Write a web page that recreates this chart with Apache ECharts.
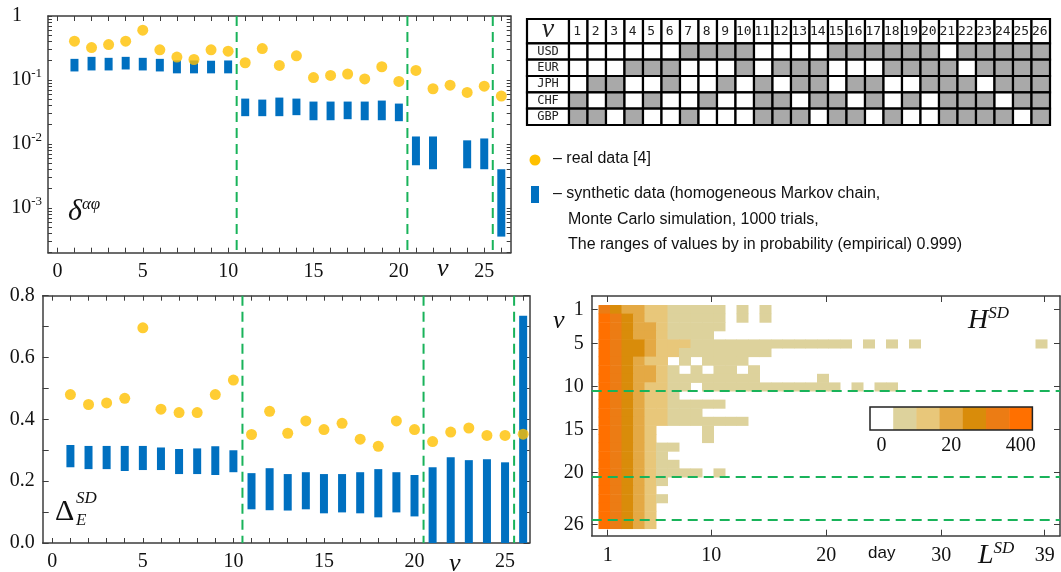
<!DOCTYPE html>
<html><head><meta charset="utf-8">
<script src="https://cdn.jsdelivr.net/npm/echarts@6/dist/echarts.min.js"></script>
<style>html,body{margin:0;padding:0;background:#fff}#c{width:1061px;height:572px}</style>
</head><body><div id="c"></div>
<script>
// ---------------- data ----------------
const nu = [1,2,3,4,5,6,7,8,9,10,11,12,13,14,15,16,17,18,19,20,21,22,23,24,25,26];
// top-left: delta^{alpha phi} (log scale)
const deltaReal = [0.404,0.321,0.358,0.404,0.60,0.296,0.228,0.209,0.296,0.282,0.186,0.31,0.169,0.239,0.109,0.118,0.124,0.104,0.161,0.095,0.141,0.073,0.083,0.064,0.080,0.056];
const deltaHigh = [0.214,0.230,0.222,0.230,0.222,0.214,0.202,0.202,0.200,0.202,0.0512,0.0494,0.0531,0.0512,0.046,0.046,0.046,0.046,0.0477,0.0428,0.0131,0.0131,null,0.0114,0.0122,0.00403];
const deltaLow  = [0.136,0.141,0.141,0.146,0.141,0.136,0.127,0.127,0.127,0.127,0.0272,0.0272,0.0272,0.0282,0.0235,0.0235,0.0244,0.0235,0.0235,0.0227,0.00465,0.00403,null,0.00417,0.00403,0.000357];
// bottom-left: Delta_E^SD
const dispReal = [0.480,0.448,0.453,0.468,0.696,0.433,0.422,0.422,0.480,0.527,0.351,0.426,0.355,0.395,0.367,0.387,0.336,0.313,0.395,0.367,0.328,0.359,0.372,0.348,0.348,0.352];
const dispHigh = [0.317,0.314,0.314,0.314,0.314,0.309,0.304,0.306,0.313,0.300,0.226,0.242,0.223,0.229,0.223,0.223,0.229,0.239,0.229,0.220,0.245,0.277,0.268,0.271,0.261,0.735];
const dispLow  = [0.245,0.239,0.239,0.233,0.236,0.236,0.223,0.223,0.220,0.229,0.109,0.106,0.105,0.109,0.096,0.099,0.096,0.083,0.099,0.086,0,0,0,0,0,0];
// group boundaries
const groupBounds = [10.5, 20.5, 25.5];
const heatBounds = [10.5, 20.5, 25.5];
// table
const currencies = ['USD','EUR','JPH','CHF','GBP'];
const tableUSD = [0,0,0,0,0,0,1,1,1,1,0,0,0,0,1,1,1,1,1,1,0,1,1,1,1,1];
const tableEUR = [0,0,0,1,1,1,0,0,0,1,0,1,1,1,0,0,0,1,1,1,1,0,1,1,1,1];
const tableJPH = [0,1,1,0,0,1,0,0,1,0,1,0,1,1,0,1,1,0,0,1,1,1,0,1,1,1];
const tableCHF = [1,0,1,0,1,0,0,1,0,0,1,1,0,1,1,0,1,0,1,0,1,1,1,0,1,1];
const tableGBP = [1,1,0,1,0,0,1,0,0,0,1,1,1,0,1,1,0,1,0,0,1,1,1,1,0,1];
// heatmap H^SD: colour level (0..6) per day L = 1..39, one string per nu
const heatRows = [
  "5433221111101010",
  "6543221111101010",
  "654332111110",
  "654332111100",
  "654432221111111111111101010100000000001",
  "654432211111111",
  "6543220101111",
  "654332101011010",
  "65433211111111000001",
  "65432211011111111111101011",
  "6543221",
  "65432211111",
  "654322111",
  "6543221111111",
  "65432000010",
  "6543200001",
  "6543211",
  "654321",
  "6543211",
  "65432111101",
  "654321",
  "65432",
  "654321",
  "65432",
  "65432",
  "65432"
];
const levelCounts = [0, 3, 8, 15, 40, 120, 400];
const heatXTicks = [1,10,20,30,39];
const heatYTicks = [1,5,10,15,20,26];
const heatLegendLabels = ['0','','','20','','','400'];

// ---------------- styles ----------------
const serif = '"Liberation Serif","DejaVu Serif",serif';
const sans = '"Liberation Sans",Arial,sans-serif';
const mono = '"DejaVu Sans Mono","Liberation Mono",monospace';
const AX = '#3c3c3c';
const BLUE = '#0070c0', GOLD = '#ffc000', GREEN = '#19b35a';
const levelColors = ['#ffffff','#ddd29c','#e8c77a','#e4a944','#d98c0a','#ec7c14','#ff7000'];

const lbl = {fontFamily: serif, fontSize: 20, color: '#111'};
function frameX(grid, pos, min, max, ticks, labels, margin){
  return {type:'value', gridIndex:grid, position:pos, min:min, max:max,
    axisLine:{show:true,onZero:false,lineStyle:{color:AX,width:1.5}},
    axisTick:{show:true,inside:true,length:5,customValues:ticks,lineStyle:{color:AX}},
    axisLabel: labels ? Object.assign({show:true,customValues:labels,margin:margin||9,formatter:v=>String(v)}, lbl) : {show:false},
    splitLine:{show:false}};
}

// y ticks for log axis
const logTicks = [];
for (let d=-4; d<=0; d++) for (let m=1; m<=9; m++){ const v=m*Math.pow(10,d); if (v>=0.0002 && v<=1.0000001) logTicks.push(+v.toPrecision(3)); }
const intTicks = [0,1,2,3,4,5,6,7,8,9,10,11,12,13,14,15,16,17,18,19,20,21,22,23,24,25,26];

const xAxes = [
  frameX(0,'bottom',-0.55,26.55,intTicks,[0,5,10,15,20,25]),
  frameX(0,'top',-0.55,26.55,intTicks,null),
  frameX(1,'bottom',-0.53,26.35,intTicks,[0,5,10,15,20,25]),
  frameX(1,'top',-0.53,26.35,intTicks,null),
  {type:'value', gridIndex:2, min:-2.27, max:26, show:false},
  frameX(3,'bottom',-0.39,40.33,heatXTicks,heatXTicks,10),
  frameX(3,'top',-0.39,40.33,heatXTicks,null)
];
xAxes[5].axisTick.length = 6; xAxes[6].axisTick.length = 6;

const yAxes = [
  {type:'log', logBase:10, gridIndex:0, position:'left', min:0.0002, max:1,
    axisLine:{show:true,onZero:false,lineStyle:{color:AX,width:1.5}},
    axisTick:{show:true,inside:true,length:4,customValues:logTicks,lineStyle:{color:AX}},
    axisLabel:{show:true, customValues:[0.001,0.01,0.1,1], margin:6,
      formatter:function(v){ const e=Math.round(Math.log10(v)); return e===0?'{one|1}':'{b|10}{s|'+e+'}'; },
      rich:{one:{fontFamily:serif,fontSize:20,color:'#111',padding:[0,20,0,0]},
            b:{fontFamily:serif,fontSize:20,color:'#111'},
            s:{fontFamily:serif,fontSize:13,color:'#111',padding:[0,0,12,0]}}},
    splitLine:{show:false}},
  {type:'log', logBase:10, gridIndex:0, position:'right', min:0.0002, max:1,
    axisLine:{show:true,onZero:false,lineStyle:{color:AX,width:1.5}},
    axisTick:{show:true,inside:true,length:4,customValues:logTicks,lineStyle:{color:AX}},
    axisLabel:{show:false}, splitLine:{show:false}},
  {type:'value', gridIndex:1, position:'left', min:0, max:0.8, interval:0.2,
    axisLine:{show:true,onZero:false,lineStyle:{color:AX,width:1.5}},
    axisTick:{show:true,inside:true,length:6,lineStyle:{color:AX}},
    minorTick:{show:true,splitNumber:2,length:6,lineStyle:{color:AX}},
    axisLabel:Object.assign({margin:8,formatter:v=>v.toFixed(1)},lbl), splitLine:{show:false}},
  {type:'value', gridIndex:1, position:'right', min:0, max:0.8, interval:0.2,
    axisLine:{show:true,onZero:false,lineStyle:{color:AX,width:1.5}},
    axisTick:{show:true,inside:true,length:6,lineStyle:{color:AX}},
    minorTick:{show:true,splitNumber:2,length:6,lineStyle:{color:AX}},
    axisLabel:{show:false}, splitLine:{show:false}},
  {type:'value', gridIndex:2, min:-1.49, max:5, inverse:true, show:false},
  {type:'value', gridIndex:3, position:'left', min:-0.55, max:27.33, inverse:true,
    axisLine:{show:true,onZero:false,lineStyle:{color:AX,width:1.5}},
    axisTick:{show:true,inside:true,length:6,customValues:heatYTicks,lineStyle:{color:AX}},
    axisLabel:Object.assign({customValues:heatYTicks,margin:8,formatter:v=>String(v)},lbl), splitLine:{show:false}},
  {type:'value', gridIndex:3, position:'right', min:-0.55, max:27.33, inverse:true,
    axisLine:{show:true,onZero:false,lineStyle:{color:AX,width:1.5}},
    axisTick:{show:true,inside:true,length:6,customValues:heatYTicks,lineStyle:{color:AX}},
    axisLabel:{show:false}, splitLine:{show:false}}
];

// ---------- series helpers ----------
function rangeBarItem(params, api){
  const x = api.value(0), lo = api.value(1), hi = api.value(2);
  const pt = api.coord([x, hi]), pb = api.coord([x, lo]);
  const w = 8;
  return {type:'rect', shape:{x:pt[0]-w/2, y:pt[1], width:w, height:pb[1]-pt[1]}, style:{fill:BLUE}};
}
function vLineItem(params, api){
  const cs = params.coordSys;
  const x = api.coord([api.value(0), api.value(1)])[0];
  return {type:'line', shape:{x1:x,y1:cs.y,x2:x,y2:cs.y+cs.height}, style:{stroke:GREEN,lineWidth:2,lineDash:[10,6]}};
}
function hLineItem(params, api){
  const cs = params.coordSys;
  const y = api.coord([api.value(1), api.value(0)])[1];
  return {type:'line', shape:{x1:cs.x,y1:y,x2:cs.x+cs.width,y2:y}, style:{stroke:GREEN,lineWidth:2,lineDash:[10,6]}};
}

const deltaBars = [], dispBars = [];
nu.forEach((n,i)=>{
  if (deltaHigh[i]!=null) deltaBars.push([n, deltaLow[i], deltaHigh[i]]);
  dispBars.push([n, dispLow[i], dispHigh[i]]);
});

// table items
const tableRows = [tableUSD, tableEUR, tableJPH, tableCHF, tableGBP];
const TX0 = -2.27, TY0 = -1.49;
const tableItems = [];
tableItems.push({value:[-1,-1,0], t:'\u03bd', kind:'corner'});
nu.forEach((n,c)=> tableItems.push({value:[c,-1,0], t:String(n), kind:'head'}));
currencies.forEach((cur,r)=>{
  tableItems.push({value:[-1,r,0], t:cur, kind:'row'});
  tableRows[r].forEach((v,c)=> tableItems.push({value:[c,r,v], t:'', kind:'cell'}));
});
function tableItem(params, api){
  const it = tableItems[params.dataIndex];
  const c = api.value(0), r = api.value(1), v = api.value(2);
  const xa = c<0?TX0:c, xb = c<0?0:c+1, ya = r<0?TY0:r, yb = r<0?0:r+1;
  const p0 = api.coord([xa, ya]), p1 = api.coord([xb, yb]);
  const rect = {type:'rect', shape:{x:p0[0],y:p0[1],width:p1[0]-p0[0],height:p1[1]-p0[1]},
    style:{fill: v ? '#a9a9a9' : '#ffffff', stroke:'#000', lineWidth:2.2}};
  const children = [rect];
  if (it.t){
    let font;
    if (it.kind==='corner') font = 'italic 28px ' + serif;
    else if (it.kind==='head') font = '13px ' + mono;
    else font = '12px ' + mono;
    children.push({type:'text', style:{text:it.t, x:(p0[0]+p1[0])/2 + (it.kind==='head'?-1:0), y:(p0[1]+p1[1])/2 + (it.kind==='corner'?-2:0),
      align:'center', verticalAlign:'middle', font:font, fill:'#222'}});
  }
  return {type:'group', children:children};
}

// heatmap items
const heatItems = [];
heatRows.forEach((row,ri)=>{
  for (let d=0; d<row.length; d++){
    const lev = +row[d];
    if (lev>0) heatItems.push([d+1, ri+1, levelCounts[lev]]);
  }
});
function heatItem(params, api){
  const day = api.value(0), v = api.value(1);
  const p0 = api.coord([day-0.8, v-0.5]), p1 = api.coord([day+0.2, v+0.5]);
  return {type:'rect', shape:{x:p0[0], y:p0[1], width:p1[0]-p0[0]+0.5, height:p1[1]-p0[1]+0.5},
    style:{fill: api.visual('color')}};
}

const option = {
  animation:false,
  backgroundColor:'#fff',
  grid:[
    {left:48, top:16, width:462.7, height:236.7},
    {left:42.7, top:295.7, width:486.8, height:250},
    {left:527, top:19, width:523, height:106},
    {left:591.7, top:296, width:468.3, height:239.7}
  ],
  xAxis: xAxes,
  yAxis: yAxes,
  visualMap:{show:false, type:'piecewise', seriesIndex:6, dimension:2,
    pieces:[
      {min:1,max:5,color:levelColors[1]},
      {min:6,max:10,color:levelColors[2]},
      {min:11,max:20,color:levelColors[3]},
      {min:21,max:60,color:levelColors[4]},
      {min:61,max:200,color:levelColors[5]},
      {min:201,color:levelColors[6]}
    ]},
  series:[
    {type:'custom', xAxisIndex:0, yAxisIndex:0, renderItem:rangeBarItem, data:deltaBars, z:2, silent:true},
    {type:'scatter', xAxisIndex:0, yAxisIndex:0, data:nu.map((n,i)=>[n,deltaReal[i]]), symbolSize:11, itemStyle:{color:GOLD}, z:3, silent:true},
    {type:'custom', xAxisIndex:0, yAxisIndex:0, renderItem:vLineItem, data:groupBounds.map(b=>[b,0.5]), z:4, silent:true},
    {type:'custom', xAxisIndex:2, yAxisIndex:2, renderItem:rangeBarItem, data:dispBars, z:2, silent:true},
    {type:'scatter', xAxisIndex:2, yAxisIndex:2, data:nu.map((n,i)=>[n,dispReal[i]]), symbolSize:11, itemStyle:{color:GOLD}, z:3, silent:true},
    {type:'custom', xAxisIndex:2, yAxisIndex:2, renderItem:vLineItem, data:groupBounds.map(b=>[b,0.4]), z:4, silent:true},
    {type:'custom', xAxisIndex:5, yAxisIndex:5, renderItem:heatItem, data:heatItems, z:2, silent:true},
    {type:'custom', xAxisIndex:5, yAxisIndex:5, renderItem:hLineItem, data:heatBounds.map(b=>[b,1]), z:4, silent:true},
    {type:'custom', xAxisIndex:4, yAxisIndex:4, renderItem:tableItem, data:tableItems.map(t=>t.value), z:2, silent:true}
  ],
  graphic:[
    // panel labels
    {type:'text', left:68, top:196, style:{text:'{d|\u03b4}{s|\u03b1\u03c6}', rich:{d:{font:'italic 30px '+serif,fill:'#111'}, s:{font:'italic 17px '+serif,fill:'#111',padding:[0,0,16,0]}}}},
    {type:'text', left:437, top:256, style:{text:'\u03bd', font:'italic 26px '+serif, fill:'#111'}},
    {type:'text', left:55, top:497, style:{text:'\u0394', font:'30px '+serif, fill:'#111'}},
    {type:'text', left:76, top:490, style:{text:'SD', font:'italic 17px '+serif, fill:'#111'}},
    {type:'text', left:76, top:512, style:{text:'E', font:'italic 17px '+serif, fill:'#111'}},
    {type:'text', left:449, top:551, style:{text:'\u03bd', font:'italic 26px '+serif, fill:'#111'}},
    // heatmap labels
    {type:'text', left:553, top:308, style:{text:'\u03bd', font:'italic 26px '+serif, fill:'#111'}},
    {type:'text', left:968, top:305, style:{text:'{h|H}{s|SD}', rich:{h:{font:'italic 28px '+serif,fill:'#111'}, s:{font:'italic 17px '+serif,fill:'#111',padding:[0,0,14,0]}}}},
    {type:'text', left:868, top:545, style:{text:'day', font:'17px '+sans, fill:'#111'}},
    {type:'text', left:978, top:540, style:{text:'{h|L}{s|SD}', rich:{h:{font:'italic 28px '+serif,fill:'#111'}, s:{font:'italic 17px '+serif,fill:'#111',padding:[0,0,14,0]}}}},
    // legend
    {type:'circle', shape:{cx:535, cy:160, r:5.5}, style:{fill:GOLD}},
    {type:'text', left:553, top:151, style:{text:'\u2013 real data [4]', font:'16px '+sans, fill:'#111'}},
    {type:'rect', shape:{x:531, y:186, width:8, height:17}, style:{fill:BLUE}},
    {type:'text', left:553, top:186, style:{text:'\u2013 synthetic data (homogeneous Markov chain,', font:'16px '+sans, fill:'#111'}},
    {type:'text', left:568, top:212, style:{text:'Monte Carlo simulation, 1000 trials,', font:'16px '+sans, fill:'#111'}},
    {type:'text', left:568, top:237, style:{text:'The ranges of values by in probability (empirical) 0.999)', font:'16px '+sans, fill:'#111'}}
  ]
};
// colour legend bar for the heatmap
const LB = {x:870, y:407, w:23.2, h:23};
levelColors.forEach((col,i)=>{
  option.graphic.push({type:'rect', shape:{x:LB.x+i*LB.w, y:LB.y, width:LB.w+0.5, height:LB.h}, style:{fill:col}, z:10});
  if (heatLegendLabels[i]) option.graphic.push({type:'text', x:LB.x+(i+0.5)*LB.w, y:LB.y+LB.h+16,
    style:{text:heatLegendLabels[i], font:'20px '+serif, fill:'#111', align:'center', verticalAlign:'middle'}, z:10});
});
option.graphic.push({type:'rect', shape:{x:LB.x, y:LB.y, width:LB.w*7, height:LB.h}, style:{fill:'none', stroke:'#222', lineWidth:1.5}, z:11});

const chart = echarts.init(document.getElementById('c'));
chart.setOption(option);
</script></body></html>
